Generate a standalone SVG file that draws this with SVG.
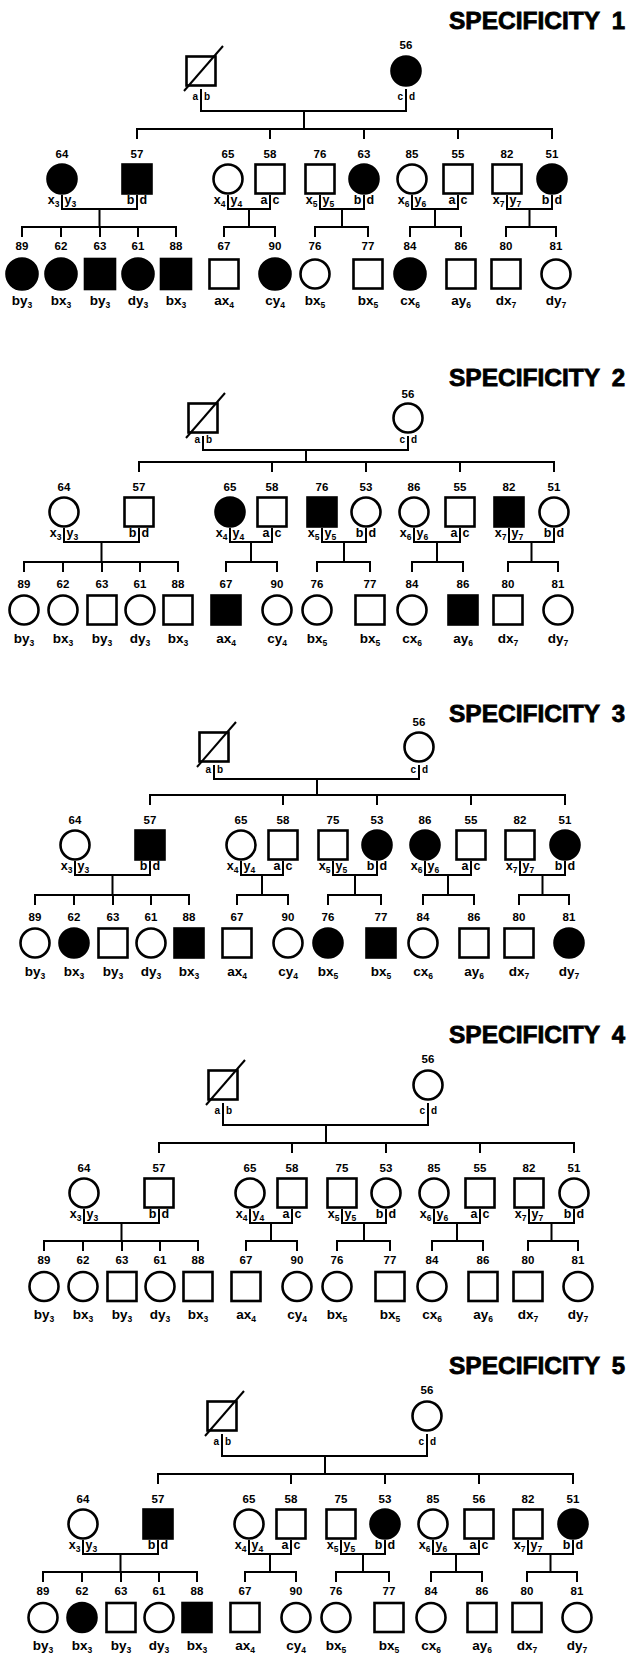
<svg xmlns="http://www.w3.org/2000/svg" width="627" height="1655" viewBox="0 0 627 1655">
<style>
.o{fill:#fff;stroke:#000;stroke-width:2.6}
.f{fill:#000;stroke:#000;stroke-width:2.6}
.l{fill:none;stroke:#000;stroke-width:2}
text{font-family:"Liberation Sans",Arial,Helvetica,sans-serif;font-weight:bold;fill:#000}
.t{font-size:24px;font-weight:900;stroke:#000;stroke-width:0.8}
.n{font-size:11.5px;text-anchor:middle}
.al{font-size:12.5px;text-anchor:end}
.ar{font-size:12.5px;text-anchor:start}
.c{font-size:13.5px;text-anchor:middle}
.sb{font-size:8.5px}
.pl{font-size:10px;text-anchor:end}
.pr{font-size:10px;text-anchor:start}
</style>
<rect width="627" height="1655" fill="#fff"/>

<g id="title1"><text class="t" x="449" y="29" textLength="151" lengthAdjust="spacingAndGlyphs">SPECIFICITY</text><text class="t" x="625" y="29" text-anchor="end">1</text></g>
<g id="title2"><text class="t" x="449" y="386" textLength="151" lengthAdjust="spacingAndGlyphs">SPECIFICITY</text><text class="t" x="625" y="386" text-anchor="end">2</text></g>
<g id="title3"><text class="t" x="449" y="722" textLength="151" lengthAdjust="spacingAndGlyphs">SPECIFICITY</text><text class="t" x="625" y="722" text-anchor="end">3</text></g>
<g id="title4"><text class="t" x="449" y="1043" textLength="151" lengthAdjust="spacingAndGlyphs">SPECIFICITY</text><text class="t" x="625" y="1043" text-anchor="end">4</text></g>
<g id="title5"><text class="t" x="449" y="1374" textLength="151" lengthAdjust="spacingAndGlyphs">SPECIFICITY</text><text class="t" x="625" y="1374" text-anchor="end">5</text></g>

<!-- PANEL 1 -->
<g id="panel1" transform="translate(-22,129)">
<g id="p1-connectors" class="l"><path d="M223,-40V-18H428V-40M326,-18V0M159,10V0H574V10M292,0V10M386,0V10M480,0V10M84,66V80H159V66M121.5,80V98M44,108V98H198V108M83,98V108M122,98V108M160,98V108M250,66V80H292V66M271,80V98M246,108V98H297V108M342,66V80H386V66M364,80V98M337,108V98H390V108M434,66V80H480V66M457,80V98M432,108V98H483V108M529,66V80H574V66M551.5,80V98M528,108V98H578V108"/></g>
<g id="p1-father" transform="translate(223,-58)"><rect x="-14.5" y="-14.5" width="29" height="29" class="o"/><path class="l" d="M-17,20L22,-25"/><text class="pl" x="-3" y="29">a</text><text class="pr" x="3" y="29">b</text></g>
<g id="p1-m56" transform="translate(428,-58)"><circle r="14.5" class="f"/><text class="n" y="-22">56</text><text class="pl" x="-3" y="29">c</text><text class="pr" x="3" y="29">d</text></g>
<g id="p1-g64" transform="translate(84,50)"><circle r="14.5" class="f"/><text class="n" y="-21">64</text><text class="al" x="-2.5" y="25">x<tspan class="sb" dy="3">3</tspan></text><text class="ar" x="2.5" y="25">y<tspan class="sb" dy="3">3</tspan></text></g>
<g id="p1-g57" transform="translate(159,50)"><rect x="-14.5" y="-14.5" width="29" height="29" class="f"/><text class="n" y="-21">57</text><text class="al" x="-2.5" y="25">b</text><text class="ar" x="2.5" y="25">d</text></g>
<g id="p1-g65" transform="translate(250,50)"><circle r="14.5" class="o"/><text class="n" y="-21">65</text><text class="al" x="-2.5" y="25">x<tspan class="sb" dy="3">4</tspan></text><text class="ar" x="2.5" y="25">y<tspan class="sb" dy="3">4</tspan></text></g>
<g id="p1-g58" transform="translate(292,50)"><rect x="-14.5" y="-14.5" width="29" height="29" class="o"/><text class="n" y="-21">58</text><text class="al" x="-2.5" y="25">a</text><text class="ar" x="2.5" y="25">c</text></g>
<g id="p1-g75" transform="translate(342,50)"><rect x="-14.5" y="-14.5" width="29" height="29" class="o"/><text class="n" y="-21">76</text><text class="al" x="-2.5" y="25">x<tspan class="sb" dy="3">5</tspan></text><text class="ar" x="2.5" y="25">y<tspan class="sb" dy="3">5</tspan></text></g>
<g id="p1-g53" transform="translate(386,50)"><circle r="14.5" class="f"/><text class="n" y="-21">63</text><text class="al" x="-2.5" y="25">b</text><text class="ar" x="2.5" y="25">d</text></g>
<g id="p1-g85" transform="translate(434,50)"><circle r="14.5" class="o"/><text class="n" y="-21">85</text><text class="al" x="-2.5" y="25">x<tspan class="sb" dy="3">6</tspan></text><text class="ar" x="2.5" y="25">y<tspan class="sb" dy="3">6</tspan></text></g>
<g id="p1-g55" transform="translate(480,50)"><rect x="-14.5" y="-14.5" width="29" height="29" class="o"/><text class="n" y="-21">55</text><text class="al" x="-2.5" y="25">a</text><text class="ar" x="2.5" y="25">c</text></g>
<g id="p1-g82" transform="translate(529,50)"><rect x="-14.5" y="-14.5" width="29" height="29" class="o"/><text class="n" y="-21">82</text><text class="al" x="-2.5" y="25">x<tspan class="sb" dy="3">7</tspan></text><text class="ar" x="2.5" y="25">y<tspan class="sb" dy="3">7</tspan></text></g>
<g id="p1-g51" transform="translate(574,50)"><circle r="14.5" class="f"/><text class="n" y="-21">51</text><text class="al" x="-2.5" y="25">b</text><text class="ar" x="2.5" y="25">d</text></g>
<g id="p1-c89" transform="translate(44,145)"><circle r="15.5" class="f"/><text class="n" y="-24">89</text><text class="c" y="31">by<tspan class="sb" dy="3">3</tspan></text></g>
<g id="p1-c62" transform="translate(83,145)"><circle r="15.5" class="f"/><text class="n" y="-24">62</text><text class="c" y="31">bx<tspan class="sb" dy="3">3</tspan></text></g>
<g id="p1-c63" transform="translate(122,145)"><rect x="-15" y="-15" width="30" height="30" class="f"/><text class="n" y="-24">63</text><text class="c" y="31">by<tspan class="sb" dy="3">3</tspan></text></g>
<g id="p1-c61" transform="translate(160,145)"><circle r="15.5" class="f"/><text class="n" y="-24">61</text><text class="c" y="31">dy<tspan class="sb" dy="3">3</tspan></text></g>
<g id="p1-c88" transform="translate(198,145)"><rect x="-15" y="-15" width="30" height="30" class="f"/><text class="n" y="-24">88</text><text class="c" y="31">bx<tspan class="sb" dy="3">3</tspan></text></g>
<g id="p1-c67" transform="translate(246,145)"><rect x="-14.5" y="-14.5" width="29" height="29" class="o"/><text class="n" y="-24">67</text><text class="c" y="31">ax<tspan class="sb" dy="3">4</tspan></text></g>
<g id="p1-c90" transform="translate(297,145)"><circle r="15.5" class="f"/><text class="n" y="-24">90</text><text class="c" y="31">cy<tspan class="sb" dy="3">4</tspan></text></g>
<g id="p1-c76" transform="translate(337,145)"><circle r="14.5" class="o"/><text class="n" y="-24">76</text><text class="c" y="31">bx<tspan class="sb" dy="3">5</tspan></text></g>
<g id="p1-c77" transform="translate(390,145)"><rect x="-14.5" y="-14.5" width="29" height="29" class="o"/><text class="n" y="-24">77</text><text class="c" y="31">bx<tspan class="sb" dy="3">5</tspan></text></g>
<g id="p1-c84" transform="translate(432,145)"><circle r="15.5" class="f"/><text class="n" y="-24">84</text><text class="c" y="31">cx<tspan class="sb" dy="3">6</tspan></text></g>
<g id="p1-c86" transform="translate(483,145)"><rect x="-14.5" y="-14.5" width="29" height="29" class="o"/><text class="n" y="-24">86</text><text class="c" y="31">ay<tspan class="sb" dy="3">6</tspan></text></g>
<g id="p1-c80" transform="translate(528,145)"><rect x="-14.5" y="-14.5" width="29" height="29" class="o"/><text class="n" y="-24">80</text><text class="c" y="31">dx<tspan class="sb" dy="3">7</tspan></text></g>
<g id="p1-c81" transform="translate(578,145)"><circle r="14.5" class="o"/><text class="n" y="-24">81</text><text class="c" y="31">dy<tspan class="sb" dy="3">7</tspan></text></g>
</g>

<!-- PANEL 2 -->
<g id="panel2" transform="translate(-20,462)">
<g id="p2-connectors" class="l"><path d="M223,-26V-12H428V-26M326,-12V0M159,10V0H574V10M292,0V10M386,0V10M480,0V10M84,66V80H159V66M121.5,80V100M44,110V100H198V110M83,100V110M122,100V110M160,100V110M250,66V80H292V66M271,80V100M246,110V100H297V110M342,66V80H386V66M364,80V100M337,110V100H390V110M434,66V80H480V66M457,80V100M432,110V100H483V110M529,66V80H574V66M551.5,80V100M528,110V100H578V110"/></g>
<g id="p2-father" transform="translate(223,-44)"><rect x="-14.5" y="-14.5" width="29" height="29" class="o"/><path class="l" d="M-17,20L22,-25"/><text class="pl" x="-3" y="25">a</text><text class="pr" x="3" y="25">b</text></g>
<g id="p2-m56" transform="translate(428,-44)"><circle r="14.5" class="o"/><text class="n" y="-20">56</text><text class="pl" x="-3" y="25">c</text><text class="pr" x="3" y="25">d</text></g>
<g id="p2-g64" transform="translate(84,50)"><circle r="14.5" class="o"/><text class="n" y="-21">64</text><text class="al" x="-2.5" y="25">x<tspan class="sb" dy="3">3</tspan></text><text class="ar" x="2.5" y="25">y<tspan class="sb" dy="3">3</tspan></text></g>
<g id="p2-g57" transform="translate(159,50)"><rect x="-14.5" y="-14.5" width="29" height="29" class="o"/><text class="n" y="-21">57</text><text class="al" x="-2.5" y="25">b</text><text class="ar" x="2.5" y="25">d</text></g>
<g id="p2-g65" transform="translate(250,50)"><circle r="14.5" class="f"/><text class="n" y="-21">65</text><text class="al" x="-2.5" y="25">x<tspan class="sb" dy="3">4</tspan></text><text class="ar" x="2.5" y="25">y<tspan class="sb" dy="3">4</tspan></text></g>
<g id="p2-g58" transform="translate(292,50)"><rect x="-14.5" y="-14.5" width="29" height="29" class="o"/><text class="n" y="-21">58</text><text class="al" x="-2.5" y="25">a</text><text class="ar" x="2.5" y="25">c</text></g>
<g id="p2-g75" transform="translate(342,50)"><rect x="-14.5" y="-14.5" width="29" height="29" class="f"/><text class="n" y="-21">76</text><text class="al" x="-2.5" y="25">x<tspan class="sb" dy="3">5</tspan></text><text class="ar" x="2.5" y="25">y<tspan class="sb" dy="3">5</tspan></text></g>
<g id="p2-g53" transform="translate(386,50)"><circle r="14.5" class="o"/><text class="n" y="-21">53</text><text class="al" x="-2.5" y="25">b</text><text class="ar" x="2.5" y="25">d</text></g>
<g id="p2-g85" transform="translate(434,50)"><circle r="14.5" class="o"/><text class="n" y="-21">86</text><text class="al" x="-2.5" y="25">x<tspan class="sb" dy="3">6</tspan></text><text class="ar" x="2.5" y="25">y<tspan class="sb" dy="3">6</tspan></text></g>
<g id="p2-g55" transform="translate(480,50)"><rect x="-14.5" y="-14.5" width="29" height="29" class="o"/><text class="n" y="-21">55</text><text class="al" x="-2.5" y="25">a</text><text class="ar" x="2.5" y="25">c</text></g>
<g id="p2-g82" transform="translate(529,50)"><rect x="-14.5" y="-14.5" width="29" height="29" class="f"/><text class="n" y="-21">82</text><text class="al" x="-2.5" y="25">x<tspan class="sb" dy="3">7</tspan></text><text class="ar" x="2.5" y="25">y<tspan class="sb" dy="3">7</tspan></text></g>
<g id="p2-g51" transform="translate(574,50)"><circle r="14.5" class="o"/><text class="n" y="-21">51</text><text class="al" x="-2.5" y="25">b</text><text class="ar" x="2.5" y="25">d</text></g>
<g id="p2-c89" transform="translate(44,148)"><circle r="14.5" class="o"/><text class="n" y="-22.5">89</text><text class="c" y="32.5">by<tspan class="sb" dy="3">3</tspan></text></g>
<g id="p2-c62" transform="translate(83,148)"><circle r="14.5" class="o"/><text class="n" y="-22.5">62</text><text class="c" y="32.5">bx<tspan class="sb" dy="3">3</tspan></text></g>
<g id="p2-c63" transform="translate(122,148)"><rect x="-14.5" y="-14.5" width="29" height="29" class="o"/><text class="n" y="-22.5">63</text><text class="c" y="32.5">by<tspan class="sb" dy="3">3</tspan></text></g>
<g id="p2-c61" transform="translate(160,148)"><circle r="14.5" class="o"/><text class="n" y="-22.5">61</text><text class="c" y="32.5">dy<tspan class="sb" dy="3">3</tspan></text></g>
<g id="p2-c88" transform="translate(198,148)"><rect x="-14.5" y="-14.5" width="29" height="29" class="o"/><text class="n" y="-22.5">88</text><text class="c" y="32.5">bx<tspan class="sb" dy="3">3</tspan></text></g>
<g id="p2-c67" transform="translate(246,148)"><rect x="-14.5" y="-14.5" width="29" height="29" class="f"/><text class="n" y="-22.5">67</text><text class="c" y="32.5">ax<tspan class="sb" dy="3">4</tspan></text></g>
<g id="p2-c90" transform="translate(297,148)"><circle r="14.5" class="o"/><text class="n" y="-22.5">90</text><text class="c" y="32.5">cy<tspan class="sb" dy="3">4</tspan></text></g>
<g id="p2-c76" transform="translate(337,148)"><circle r="14.5" class="o"/><text class="n" y="-22.5">76</text><text class="c" y="32.5">bx<tspan class="sb" dy="3">5</tspan></text></g>
<g id="p2-c77" transform="translate(390,148)"><rect x="-14.5" y="-14.5" width="29" height="29" class="o"/><text class="n" y="-22.5">77</text><text class="c" y="32.5">bx<tspan class="sb" dy="3">5</tspan></text></g>
<g id="p2-c84" transform="translate(432,148)"><circle r="14.5" class="o"/><text class="n" y="-22.5">84</text><text class="c" y="32.5">cx<tspan class="sb" dy="3">6</tspan></text></g>
<g id="p2-c86" transform="translate(483,148)"><rect x="-14.5" y="-14.5" width="29" height="29" class="f"/><text class="n" y="-22.5">86</text><text class="c" y="32.5">ay<tspan class="sb" dy="3">6</tspan></text></g>
<g id="p2-c80" transform="translate(528,148)"><rect x="-14.5" y="-14.5" width="29" height="29" class="o"/><text class="n" y="-22.5">80</text><text class="c" y="32.5">dx<tspan class="sb" dy="3">7</tspan></text></g>
<g id="p2-c81" transform="translate(578,148)"><circle r="14.5" class="o"/><text class="n" y="-22.5">81</text><text class="c" y="32.5">dy<tspan class="sb" dy="3">7</tspan></text></g>
</g>

<!-- PANEL 3 -->
<g id="panel3" transform="translate(-9,795)">
<g id="p3-connectors" class="l"><path d="M223,-30V-16H428V-30M326,-16V0M159,10V0H574V10M292,0V10M386,0V10M480,0V10M84,66V80H159V66M121.5,80V100M44,110V100H198V110M83,100V110M122,100V110M160,100V110M250,66V80H292V66M271,80V100M246,110V100H297V110M342,66V80H386V66M364,80V100M337,110V100H390V110M434,66V80H480V66M457,80V100M432,110V100H483V110M529,66V80H574V66M551.5,80V100M528,110V100H578V110"/></g>
<g id="p3-father" transform="translate(223,-48)"><rect x="-14.5" y="-14.5" width="29" height="29" class="o"/><path class="l" d="M-17,20L22,-25"/><text class="pl" x="-3" y="26">a</text><text class="pr" x="3" y="26">b</text></g>
<g id="p3-m56" transform="translate(428,-48)"><circle r="14.5" class="o"/><text class="n" y="-21">56</text><text class="pl" x="-3" y="26">c</text><text class="pr" x="3" y="26">d</text></g>
<g id="p3-g64" transform="translate(84,50)"><circle r="14.5" class="o"/><text class="n" y="-21">64</text><text class="al" x="-2.5" y="25">x<tspan class="sb" dy="3">3</tspan></text><text class="ar" x="2.5" y="25">y<tspan class="sb" dy="3">3</tspan></text></g>
<g id="p3-g57" transform="translate(159,50)"><rect x="-14.5" y="-14.5" width="29" height="29" class="f"/><text class="n" y="-21">57</text><text class="al" x="-2.5" y="25">b</text><text class="ar" x="2.5" y="25">d</text></g>
<g id="p3-g65" transform="translate(250,50)"><circle r="14.5" class="o"/><text class="n" y="-21">65</text><text class="al" x="-2.5" y="25">x<tspan class="sb" dy="3">4</tspan></text><text class="ar" x="2.5" y="25">y<tspan class="sb" dy="3">4</tspan></text></g>
<g id="p3-g58" transform="translate(292,50)"><rect x="-14.5" y="-14.5" width="29" height="29" class="o"/><text class="n" y="-21">58</text><text class="al" x="-2.5" y="25">a</text><text class="ar" x="2.5" y="25">c</text></g>
<g id="p3-g75" transform="translate(342,50)"><rect x="-14.5" y="-14.5" width="29" height="29" class="o"/><text class="n" y="-21">75</text><text class="al" x="-2.5" y="25">x<tspan class="sb" dy="3">5</tspan></text><text class="ar" x="2.5" y="25">y<tspan class="sb" dy="3">5</tspan></text></g>
<g id="p3-g53" transform="translate(386,50)"><circle r="14.5" class="f"/><text class="n" y="-21">53</text><text class="al" x="-2.5" y="25">b</text><text class="ar" x="2.5" y="25">d</text></g>
<g id="p3-g85" transform="translate(434,50)"><circle r="14.5" class="f"/><text class="n" y="-21">86</text><text class="al" x="-2.5" y="25">x<tspan class="sb" dy="3">6</tspan></text><text class="ar" x="2.5" y="25">y<tspan class="sb" dy="3">6</tspan></text></g>
<g id="p3-g55" transform="translate(480,50)"><rect x="-14.5" y="-14.5" width="29" height="29" class="o"/><text class="n" y="-21">55</text><text class="al" x="-2.5" y="25">a</text><text class="ar" x="2.5" y="25">c</text></g>
<g id="p3-g82" transform="translate(529,50)"><rect x="-14.5" y="-14.5" width="29" height="29" class="o"/><text class="n" y="-21">82</text><text class="al" x="-2.5" y="25">x<tspan class="sb" dy="3">7</tspan></text><text class="ar" x="2.5" y="25">y<tspan class="sb" dy="3">7</tspan></text></g>
<g id="p3-g51" transform="translate(574,50)"><circle r="14.5" class="f"/><text class="n" y="-21">51</text><text class="al" x="-2.5" y="25">b</text><text class="ar" x="2.5" y="25">d</text></g>
<g id="p3-c89" transform="translate(44,148)"><circle r="14.5" class="o"/><text class="n" y="-22.5">89</text><text class="c" y="32.5">by<tspan class="sb" dy="3">3</tspan></text></g>
<g id="p3-c62" transform="translate(83,148)"><circle r="14.5" class="f"/><text class="n" y="-22.5">62</text><text class="c" y="32.5">bx<tspan class="sb" dy="3">3</tspan></text></g>
<g id="p3-c63" transform="translate(122,148)"><rect x="-14.5" y="-14.5" width="29" height="29" class="o"/><text class="n" y="-22.5">63</text><text class="c" y="32.5">by<tspan class="sb" dy="3">3</tspan></text></g>
<g id="p3-c61" transform="translate(160,148)"><circle r="14.5" class="o"/><text class="n" y="-22.5">61</text><text class="c" y="32.5">dy<tspan class="sb" dy="3">3</tspan></text></g>
<g id="p3-c88" transform="translate(198,148)"><rect x="-14.5" y="-14.5" width="29" height="29" class="f"/><text class="n" y="-22.5">88</text><text class="c" y="32.5">bx<tspan class="sb" dy="3">3</tspan></text></g>
<g id="p3-c67" transform="translate(246,148)"><rect x="-14.5" y="-14.5" width="29" height="29" class="o"/><text class="n" y="-22.5">67</text><text class="c" y="32.5">ax<tspan class="sb" dy="3">4</tspan></text></g>
<g id="p3-c90" transform="translate(297,148)"><circle r="14.5" class="o"/><text class="n" y="-22.5">90</text><text class="c" y="32.5">cy<tspan class="sb" dy="3">4</tspan></text></g>
<g id="p3-c76" transform="translate(337,148)"><circle r="14.5" class="f"/><text class="n" y="-22.5">76</text><text class="c" y="32.5">bx<tspan class="sb" dy="3">5</tspan></text></g>
<g id="p3-c77" transform="translate(390,148)"><rect x="-14.5" y="-14.5" width="29" height="29" class="f"/><text class="n" y="-22.5">77</text><text class="c" y="32.5">bx<tspan class="sb" dy="3">5</tspan></text></g>
<g id="p3-c84" transform="translate(432,148)"><circle r="14.5" class="o"/><text class="n" y="-22.5">84</text><text class="c" y="32.5">cx<tspan class="sb" dy="3">6</tspan></text></g>
<g id="p3-c86" transform="translate(483,148)"><rect x="-14.5" y="-14.5" width="29" height="29" class="o"/><text class="n" y="-22.5">86</text><text class="c" y="32.5">ay<tspan class="sb" dy="3">6</tspan></text></g>
<g id="p3-c80" transform="translate(528,148)"><rect x="-14.5" y="-14.5" width="29" height="29" class="o"/><text class="n" y="-22.5">80</text><text class="c" y="32.5">dx<tspan class="sb" dy="3">7</tspan></text></g>
<g id="p3-c81" transform="translate(578,148)"><circle r="14.5" class="f"/><text class="n" y="-22.5">81</text><text class="c" y="32.5">dy<tspan class="sb" dy="3">7</tspan></text></g>
</g>

<!-- PANEL 4 -->
<g id="panel4" transform="translate(0,1143)">
<g id="p4-connectors" class="l"><path d="M223,-40V-18H428V-40M326,-18V0M159,10V0H574V10M292,0V10M386,0V10M480,0V10M84,66V80H159V66M121.5,80V98M44,108V98H198V108M83,98V108M122,98V108M160,98V108M250,66V80H292V66M271,80V98M246,108V98H297V108M342,66V80H386V66M364,80V98M337,108V98H390V108M434,66V80H480V66M457,80V98M432,108V98H483V108M529,66V80H574V66M551.5,80V98M528,108V98H578V108"/></g>
<g id="p4-father" transform="translate(223,-58)"><rect x="-14.5" y="-14.5" width="29" height="29" class="o"/><path class="l" d="M-17,20L22,-25"/><text class="pl" x="-3" y="29">a</text><text class="pr" x="3" y="29">b</text></g>
<g id="p4-m56" transform="translate(428,-58)"><circle r="14.5" class="o"/><text class="n" y="-22">56</text><text class="pl" x="-3" y="29">c</text><text class="pr" x="3" y="29">d</text></g>
<g id="p4-g64" transform="translate(84,50)"><circle r="14.5" class="o"/><text class="n" y="-21">64</text><text class="al" x="-2.5" y="25">x<tspan class="sb" dy="3">3</tspan></text><text class="ar" x="2.5" y="25">y<tspan class="sb" dy="3">3</tspan></text></g>
<g id="p4-g57" transform="translate(159,50)"><rect x="-14.5" y="-14.5" width="29" height="29" class="o"/><text class="n" y="-21">57</text><text class="al" x="-2.5" y="25">b</text><text class="ar" x="2.5" y="25">d</text></g>
<g id="p4-g65" transform="translate(250,50)"><circle r="14.5" class="o"/><text class="n" y="-21">65</text><text class="al" x="-2.5" y="25">x<tspan class="sb" dy="3">4</tspan></text><text class="ar" x="2.5" y="25">y<tspan class="sb" dy="3">4</tspan></text></g>
<g id="p4-g58" transform="translate(292,50)"><rect x="-14.5" y="-14.5" width="29" height="29" class="o"/><text class="n" y="-21">58</text><text class="al" x="-2.5" y="25">a</text><text class="ar" x="2.5" y="25">c</text></g>
<g id="p4-g75" transform="translate(342,50)"><rect x="-14.5" y="-14.5" width="29" height="29" class="o"/><text class="n" y="-21">75</text><text class="al" x="-2.5" y="25">x<tspan class="sb" dy="3">5</tspan></text><text class="ar" x="2.5" y="25">y<tspan class="sb" dy="3">5</tspan></text></g>
<g id="p4-g53" transform="translate(386,50)"><circle r="14.5" class="o"/><text class="n" y="-21">53</text><text class="al" x="-2.5" y="25">b</text><text class="ar" x="2.5" y="25">d</text></g>
<g id="p4-g85" transform="translate(434,50)"><circle r="14.5" class="o"/><text class="n" y="-21">85</text><text class="al" x="-2.5" y="25">x<tspan class="sb" dy="3">6</tspan></text><text class="ar" x="2.5" y="25">y<tspan class="sb" dy="3">6</tspan></text></g>
<g id="p4-g55" transform="translate(480,50)"><rect x="-14.5" y="-14.5" width="29" height="29" class="o"/><text class="n" y="-21">55</text><text class="al" x="-2.5" y="25">a</text><text class="ar" x="2.5" y="25">c</text></g>
<g id="p4-g82" transform="translate(529,50)"><rect x="-14.5" y="-14.5" width="29" height="29" class="o"/><text class="n" y="-21">82</text><text class="al" x="-2.5" y="25">x<tspan class="sb" dy="3">7</tspan></text><text class="ar" x="2.5" y="25">y<tspan class="sb" dy="3">7</tspan></text></g>
<g id="p4-g51" transform="translate(574,50)"><circle r="14.5" class="o"/><text class="n" y="-21">51</text><text class="al" x="-2.5" y="25">b</text><text class="ar" x="2.5" y="25">d</text></g>
<g id="p4-c89" transform="translate(44,143.5)"><circle r="14.5" class="o"/><text class="n" y="-22.5">89</text><text class="c" y="32.5">by<tspan class="sb" dy="3">3</tspan></text></g>
<g id="p4-c62" transform="translate(83,143.5)"><circle r="14.5" class="o"/><text class="n" y="-22.5">62</text><text class="c" y="32.5">bx<tspan class="sb" dy="3">3</tspan></text></g>
<g id="p4-c63" transform="translate(122,143.5)"><rect x="-14.5" y="-14.5" width="29" height="29" class="o"/><text class="n" y="-22.5">63</text><text class="c" y="32.5">by<tspan class="sb" dy="3">3</tspan></text></g>
<g id="p4-c61" transform="translate(160,143.5)"><circle r="14.5" class="o"/><text class="n" y="-22.5">61</text><text class="c" y="32.5">dy<tspan class="sb" dy="3">3</tspan></text></g>
<g id="p4-c88" transform="translate(198,143.5)"><rect x="-14.5" y="-14.5" width="29" height="29" class="o"/><text class="n" y="-22.5">88</text><text class="c" y="32.5">bx<tspan class="sb" dy="3">3</tspan></text></g>
<g id="p4-c67" transform="translate(246,143.5)"><rect x="-14.5" y="-14.5" width="29" height="29" class="o"/><text class="n" y="-22.5">67</text><text class="c" y="32.5">ax<tspan class="sb" dy="3">4</tspan></text></g>
<g id="p4-c90" transform="translate(297,143.5)"><circle r="14.5" class="o"/><text class="n" y="-22.5">90</text><text class="c" y="32.5">cy<tspan class="sb" dy="3">4</tspan></text></g>
<g id="p4-c76" transform="translate(337,143.5)"><circle r="14.5" class="o"/><text class="n" y="-22.5">76</text><text class="c" y="32.5">bx<tspan class="sb" dy="3">5</tspan></text></g>
<g id="p4-c77" transform="translate(390,143.5)"><rect x="-14.5" y="-14.5" width="29" height="29" class="o"/><text class="n" y="-22.5">77</text><text class="c" y="32.5">bx<tspan class="sb" dy="3">5</tspan></text></g>
<g id="p4-c84" transform="translate(432,143.5)"><circle r="14.5" class="o"/><text class="n" y="-22.5">84</text><text class="c" y="32.5">cx<tspan class="sb" dy="3">6</tspan></text></g>
<g id="p4-c86" transform="translate(483,143.5)"><rect x="-14.5" y="-14.5" width="29" height="29" class="o"/><text class="n" y="-22.5">86</text><text class="c" y="32.5">ay<tspan class="sb" dy="3">6</tspan></text></g>
<g id="p4-c80" transform="translate(528,143.5)"><rect x="-14.5" y="-14.5" width="29" height="29" class="o"/><text class="n" y="-22.5">80</text><text class="c" y="32.5">dx<tspan class="sb" dy="3">7</tspan></text></g>
<g id="p4-c81" transform="translate(578,143.5)"><circle r="14.5" class="o"/><text class="n" y="-22.5">81</text><text class="c" y="32.5">dy<tspan class="sb" dy="3">7</tspan></text></g>
</g>

<!-- PANEL 5 -->
<g id="panel5" transform="translate(-1,1474)">
<g id="p5-connectors" class="l"><path d="M223,-40V-18H428V-40M326,-18V0M159,10V0H574V10M292,0V10M386,0V10M480,0V10M84,66V80H159V66M121.5,80V98M44,108V98H198V108M83,98V108M122,98V108M160,98V108M250,66V80H292V66M271,80V98M246,108V98H297V108M342,66V80H386V66M364,80V98M337,108V98H390V108M434,66V80H480V66M457,80V98M432,108V98H483V108M529,66V80H574V66M551.5,80V98M528,108V98H578V108"/></g>
<g id="p5-father" transform="translate(223,-58)"><rect x="-14.5" y="-14.5" width="29" height="29" class="o"/><path class="l" d="M-17,20L22,-25"/><text class="pl" x="-3" y="29">a</text><text class="pr" x="3" y="29">b</text></g>
<g id="p5-m56" transform="translate(428,-58)"><circle r="14.5" class="o"/><text class="n" y="-22">56</text><text class="pl" x="-3" y="29">c</text><text class="pr" x="3" y="29">d</text></g>
<g id="p5-g64" transform="translate(84,50)"><circle r="14.5" class="o"/><text class="n" y="-21">64</text><text class="al" x="-2.5" y="25">x<tspan class="sb" dy="3">3</tspan></text><text class="ar" x="2.5" y="25">y<tspan class="sb" dy="3">3</tspan></text></g>
<g id="p5-g57" transform="translate(159,50)"><rect x="-14.5" y="-14.5" width="29" height="29" class="f"/><text class="n" y="-21">57</text><text class="al" x="-2.5" y="25">b</text><text class="ar" x="2.5" y="25">d</text></g>
<g id="p5-g65" transform="translate(250,50)"><circle r="14.5" class="o"/><text class="n" y="-21">65</text><text class="al" x="-2.5" y="25">x<tspan class="sb" dy="3">4</tspan></text><text class="ar" x="2.5" y="25">y<tspan class="sb" dy="3">4</tspan></text></g>
<g id="p5-g58" transform="translate(292,50)"><rect x="-14.5" y="-14.5" width="29" height="29" class="o"/><text class="n" y="-21">58</text><text class="al" x="-2.5" y="25">a</text><text class="ar" x="2.5" y="25">c</text></g>
<g id="p5-g75" transform="translate(342,50)"><rect x="-14.5" y="-14.5" width="29" height="29" class="o"/><text class="n" y="-21">75</text><text class="al" x="-2.5" y="25">x<tspan class="sb" dy="3">5</tspan></text><text class="ar" x="2.5" y="25">y<tspan class="sb" dy="3">5</tspan></text></g>
<g id="p5-g53" transform="translate(386,50)"><circle r="14.5" class="f"/><text class="n" y="-21">53</text><text class="al" x="-2.5" y="25">b</text><text class="ar" x="2.5" y="25">d</text></g>
<g id="p5-g85" transform="translate(434,50)"><circle r="14.5" class="o"/><text class="n" y="-21">85</text><text class="al" x="-2.5" y="25">x<tspan class="sb" dy="3">6</tspan></text><text class="ar" x="2.5" y="25">y<tspan class="sb" dy="3">6</tspan></text></g>
<g id="p5-g55" transform="translate(480,50)"><rect x="-14.5" y="-14.5" width="29" height="29" class="o"/><text class="n" y="-21">56</text><text class="al" x="-2.5" y="25">a</text><text class="ar" x="2.5" y="25">c</text></g>
<g id="p5-g82" transform="translate(529,50)"><rect x="-14.5" y="-14.5" width="29" height="29" class="o"/><text class="n" y="-21">82</text><text class="al" x="-2.5" y="25">x<tspan class="sb" dy="3">7</tspan></text><text class="ar" x="2.5" y="25">y<tspan class="sb" dy="3">7</tspan></text></g>
<g id="p5-g51" transform="translate(574,50)"><circle r="14.5" class="f"/><text class="n" y="-21">51</text><text class="al" x="-2.5" y="25">b</text><text class="ar" x="2.5" y="25">d</text></g>
<g id="p5-c89" transform="translate(44,143.5)"><circle r="14.5" class="o"/><text class="n" y="-22.5">89</text><text class="c" y="32.5">by<tspan class="sb" dy="3">3</tspan></text></g>
<g id="p5-c62" transform="translate(83,143.5)"><circle r="14.5" class="f"/><text class="n" y="-22.5">62</text><text class="c" y="32.5">bx<tspan class="sb" dy="3">3</tspan></text></g>
<g id="p5-c63" transform="translate(122,143.5)"><rect x="-14.5" y="-14.5" width="29" height="29" class="o"/><text class="n" y="-22.5">63</text><text class="c" y="32.5">by<tspan class="sb" dy="3">3</tspan></text></g>
<g id="p5-c61" transform="translate(160,143.5)"><circle r="14.5" class="o"/><text class="n" y="-22.5">61</text><text class="c" y="32.5">dy<tspan class="sb" dy="3">3</tspan></text></g>
<g id="p5-c88" transform="translate(198,143.5)"><rect x="-14.5" y="-14.5" width="29" height="29" class="f"/><text class="n" y="-22.5">88</text><text class="c" y="32.5">bx<tspan class="sb" dy="3">3</tspan></text></g>
<g id="p5-c67" transform="translate(246,143.5)"><rect x="-14.5" y="-14.5" width="29" height="29" class="o"/><text class="n" y="-22.5">67</text><text class="c" y="32.5">ax<tspan class="sb" dy="3">4</tspan></text></g>
<g id="p5-c90" transform="translate(297,143.5)"><circle r="14.5" class="o"/><text class="n" y="-22.5">90</text><text class="c" y="32.5">cy<tspan class="sb" dy="3">4</tspan></text></g>
<g id="p5-c76" transform="translate(337,143.5)"><circle r="14.5" class="o"/><text class="n" y="-22.5">76</text><text class="c" y="32.5">bx<tspan class="sb" dy="3">5</tspan></text></g>
<g id="p5-c77" transform="translate(390,143.5)"><rect x="-14.5" y="-14.5" width="29" height="29" class="o"/><text class="n" y="-22.5">77</text><text class="c" y="32.5">bx<tspan class="sb" dy="3">5</tspan></text></g>
<g id="p5-c84" transform="translate(432,143.5)"><circle r="14.5" class="o"/><text class="n" y="-22.5">84</text><text class="c" y="32.5">cx<tspan class="sb" dy="3">6</tspan></text></g>
<g id="p5-c86" transform="translate(483,143.5)"><rect x="-14.5" y="-14.5" width="29" height="29" class="o"/><text class="n" y="-22.5">86</text><text class="c" y="32.5">ay<tspan class="sb" dy="3">6</tspan></text></g>
<g id="p5-c80" transform="translate(528,143.5)"><rect x="-14.5" y="-14.5" width="29" height="29" class="o"/><text class="n" y="-22.5">80</text><text class="c" y="32.5">dx<tspan class="sb" dy="3">7</tspan></text></g>
<g id="p5-c81" transform="translate(578,143.5)"><circle r="14.5" class="o"/><text class="n" y="-22.5">81</text><text class="c" y="32.5">dy<tspan class="sb" dy="3">7</tspan></text></g>
</g>
</svg>
